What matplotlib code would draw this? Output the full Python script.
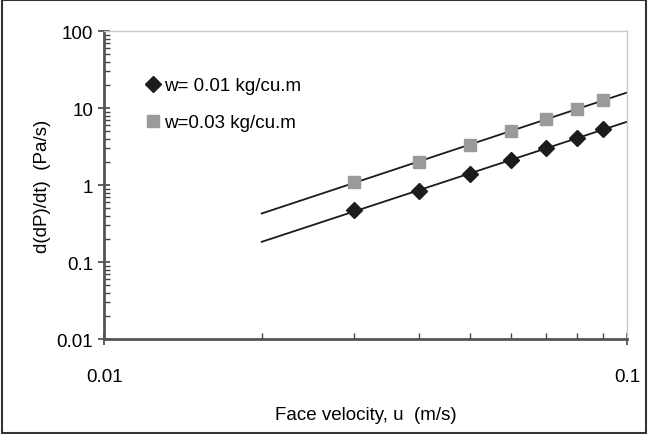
import numpy as np
import matplotlib
matplotlib.use("Agg")
import matplotlib.pyplot as plt
from matplotlib.patches import Rectangle
from matplotlib.ticker import LogLocator, NullFormatter, FixedLocator, FixedFormatter

plt.rcParams['font.family'] = ['Liberation Sans', 'DejaVu Sans']

u = [0.03, 0.04, 0.05, 0.06, 0.07, 0.08, 0.09]
rate_w001 = [0.47, 0.85, 1.38, 2.1, 3.0, 4.1, 5.4]
rate_w003 = [1.1, 2.0, 3.3, 5.0, 7.2, 9.8, 12.8]
label_w001 = "w= 0.01 kg/cu.m"
label_w003 = "w=0.03 kg/cu.m"
fit_range = [0.02, 0.1]

fig = plt.figure(figsize=(6.48, 4.35), dpi=100)
ax = fig.add_axes([0.161, 0.218, 0.807, 0.708])

def power_fit(x, y):
    b, a = np.polyfit(np.log10(x), np.log10(y), 1)
    xx = np.logspace(np.log10(fit_range[0]), np.log10(fit_range[1]), 50)
    return xx, 10 ** a * xx ** b

for y in (rate_w001, rate_w003):
    xx, yy = power_fit(u, y)
    ax.plot(xx, yy, color='#1a1a1a', lw=1.3, zorder=2)

ax.plot(u, rate_w001, 'D', color='#1c1c1c', ms=8, ls='none', label=label_w001, zorder=3)
ax.plot(u, rate_w003, 's', color='#9a9a9a', ms=8.5, ls='none', label=label_w003, zorder=3)

ax.set_xscale('log')
ax.set_yscale('log')
ax.set_xlim(0.01, 0.1)
ax.set_ylim(0.01, 100)

ax.xaxis.set_major_locator(FixedLocator([0.01, 0.1]))
ax.xaxis.set_major_formatter(FixedFormatter(['0.01', '0.1']))
ax.xaxis.set_minor_locator(LogLocator(base=10, subs=np.arange(2, 10)))
ax.xaxis.set_minor_formatter(NullFormatter())
ax.yaxis.set_major_locator(FixedLocator([0.01, 0.1, 1, 10, 100]))
ax.yaxis.set_major_formatter(FixedFormatter(['0.01', '0.1', '1', '10', '100']))
ax.yaxis.set_minor_locator(LogLocator(base=10, subs=np.arange(2, 10)))
ax.yaxis.set_minor_formatter(NullFormatter())

ax.tick_params(which='major', direction='inout', length=8, width=1.2, color='#444444',
               labelsize=13.5)
ax.tick_params(which='minor', direction='in', length=4, width=1, color='#444444')
ax.tick_params(axis='y', which='major', pad=4)
ax.tick_params(axis='x', which='major', pad=17)

for s in ('left', 'bottom'):
    ax.spines[s].set_color('#555555')
    ax.spines[s].set_linewidth(2)
for s in ('top', 'right'):
    ax.spines[s].set_color('#c8c8c8')
    ax.spines[s].set_linewidth(1)

ax.set_xlabel('Face velocity, u  (m/s)', fontsize=13.5, labelpad=15)
ax.set_ylabel('d(dP)/dt)  (Pa/s)', fontsize=13.5, labelpad=4)

ax.legend(loc='upper left', bbox_to_anchor=(0.06, 0.875), frameon=False, fontsize=13.5,
          handletextpad=0.1, handlelength=1.0, labelspacing=1.05, borderaxespad=0)

fig.patches.append(Rectangle((0.003, 0.003), 0.994, 0.994, transform=fig.transFigure,
                             fill=False, edgecolor='#333333', lw=1.5))

fig.savefig('out.png', dpi=100)
